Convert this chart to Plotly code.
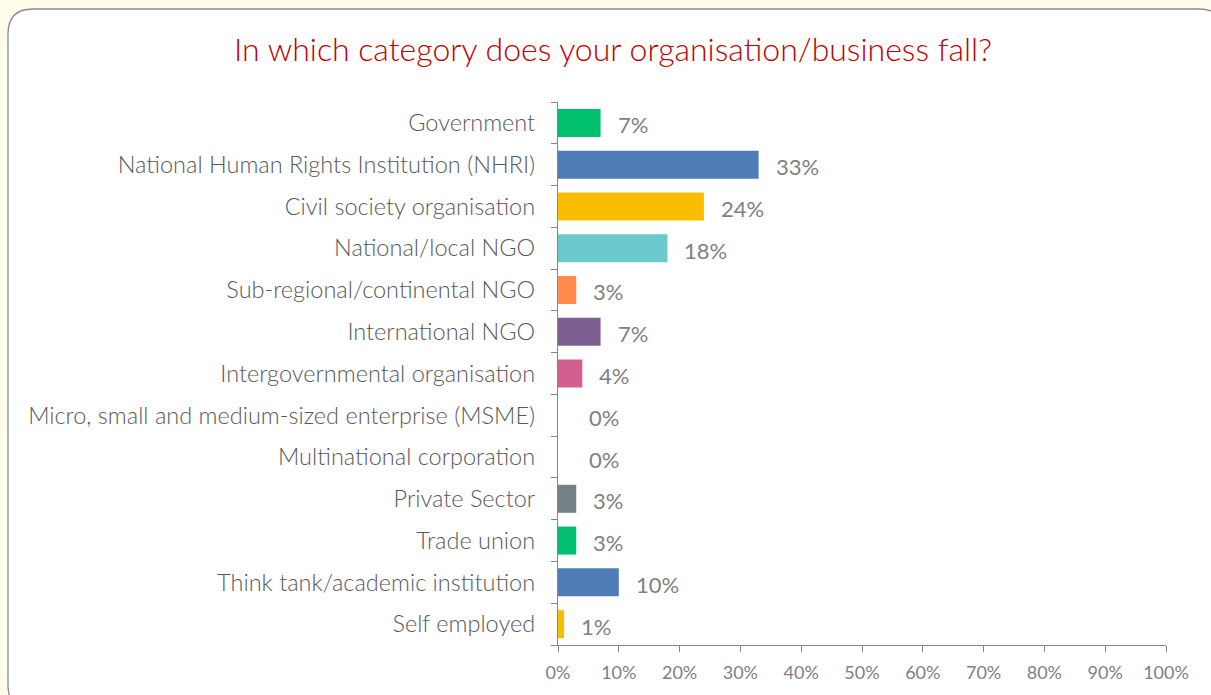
import plotly.graph_objects as go

# Survey answers: share of respondents per organisation category (%)
categories = [
    "Government",
    "National Human Rights Institution (NHRI)",
    "Civil society organisation",
    "National/local NGO",
    "Sub-regional/continental NGO",
    "International NGO",
    "Intergovernmental organisation",
    "Micro, small and medium-sized enterprise (MSME)",
    "Multinational corporation",
    "Private Sector",
    "Trade union",
    "Think tank/academic institution",
    "Self employed",
]
shares = [7, 33, 24, 18, 3, 7, 4, 0, 0, 3, 3, 10, 1]
bar_colors = [
    "#00BF6F", "#507CB6", "#F9BE00", "#6BC8CD", "#FF8B4F", "#7D5E90",
    "#D25F90", "#0D8A5C", "#D6D6D6", "#768087", "#00BF6F", "#507CB6", "#F9BE00",
]
x_ticks = list(range(0, 101, 10))

W, H = 1211, 695
L, R, T, B = 558, 45, 102, 50
PW, PH = W - L - R, H - T - B


def px(xp):
    return (xp - L) / PW


def py(yp):
    return (H - B - yp) / PH


rows = list(range(len(categories)))
axis_gray = "#868686"
label_gray = "#595959"
value_gray = "#808080"

fig = go.Figure()
fig.add_trace(go.Bar(
    x=shares,
    y=rows,
    orientation="h",
    marker=dict(color=bar_colors, line=dict(width=0)),
    hoverinfo="skip",
))

# Value labels to the right of each bar
for r, v in zip(rows, shares):
    fig.add_annotation(
        x=v, y=r, xref="x", yref="y",
        text=f"{v}%", showarrow=False,
        xanchor="left", yanchor="middle",
        xshift=29 if v == 0 else 15, yshift=-2,
        font=dict(family="Lato, Carlito, sans-serif", size=22, color=value_gray),
    )

# Rounded panel behind the chart
x0, y0, x1, y1, rad = px(8), py(9), px(1224), py(710), 25
rx, ry = rad / PW, rad / PH
panel = (
    f"M {x0 + rx},{y0} L {x1 - rx},{y0} Q {x1},{y0} {x1},{y0 - ry} "
    f"L {x1},{y1 + ry} Q {x1},{y1} {x1 - rx},{y1} "
    f"L {x0 + rx},{y1} Q {x0},{y1} {x0},{y1 + ry} "
    f"L {x0},{y0 - ry} Q {x0},{y0} {x0 + rx},{y0} Z"
)
fig.add_shape(type="path", path=panel, xref="paper", yref="paper",
              fillcolor="white", line=dict(color="#8C8C8C", width=1.3),
              layer="below")

fig.update_layout(
    width=W, height=H,
    margin=dict(l=L, r=R, t=T, b=B),
    paper_bgcolor="#FFFCEB",
    plot_bgcolor="rgba(0,0,0,0)",
    bargap=0.33,
    showlegend=False,
    title=dict(
        text="In which category does your organisation/business fall?",
        x=px(613), xanchor="center",
        y=1 - 50 / H, yanchor="middle",
        xref="paper", yref="container",
        font=dict(family="Lato, sans-serif", size=32, weight=300, color="#C00000"),
    ),
    xaxis=dict(
        range=[0, 100],
        tickvals=x_ticks,
        ticktext=[f"{t}%" for t in x_ticks],
        ticks="outside", ticklen=6, tickcolor=axis_gray, tickwidth=1,
        ticklabelstandoff=5,
        showline=True, linecolor=axis_gray, linewidth=1.3,
        showgrid=False, zeroline=False,
        tickfont=dict(family="Lato, Carlito, sans-serif", size=18, color=value_gray),
        fixedrange=True,
    ),
    yaxis=dict(
        range=[len(categories) - 0.5, -0.5],
        tickvals=rows,
        ticktext=categories,
        ticks="",
        ticklabelstandoff=17,
        showline=True, linecolor=axis_gray, linewidth=1.3,
        showgrid=False, zeroline=False,
        tickfont=dict(family="Lato, sans-serif", size=23.5, weight=300, color=label_gray),
        minor=dict(
            tickvals=[r - 0.5 for r in rows] + [len(categories) - 0.5],
            ticks="outside", ticklen=6, tickcolor=axis_gray, tickwidth=1,
            showgrid=False,
        ),
        fixedrange=True,
    ),
)

fig.write_html("out.html")
